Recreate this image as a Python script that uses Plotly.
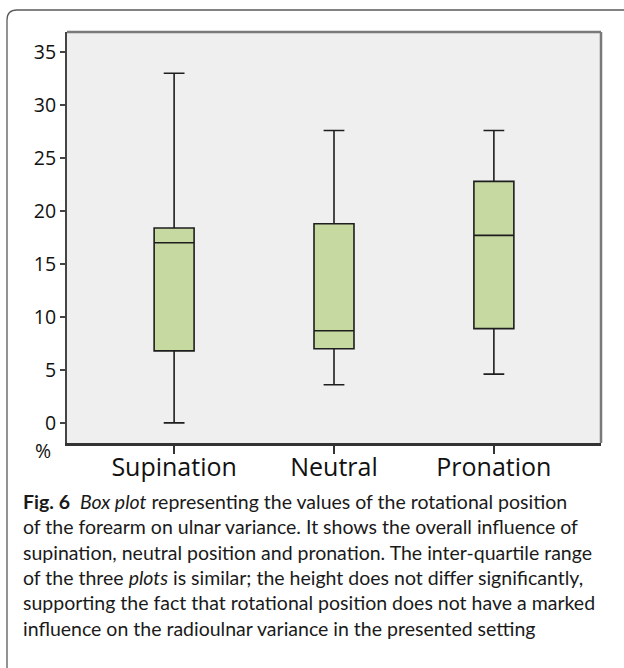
import plotly.graph_objects as go

# ---- data ----
categories = ["Supination", "Neutral", "Pronation"]
lower_whisker = [0.0, 3.6, 4.6]
q1_values = [6.8, 7.0, 8.9]
median_values = [17.0, 8.7, 17.7]
q3_values = [18.4, 18.8, 22.8]
upper_whisker = [33.0, 27.6, 27.6]
y_tick_values = [0, 5, 10, 15, 20, 25, 30, 35]
y_tick_labels = ["0", "5", "10", "15", "20", "25", "30", "35"]

caption = (
    "<b>Fig. 6</b>&#160;&#160;<i>Box plot</i> representing the values of the rotational position<br>"
    "of the forearm on ulnar variance. It shows the overall influence of<br>"
    "supination, neutral position and pronation. The inter-quartile range<br>"
    "of the three <i>plots</i> is similar; the height does not differ significantly,<br>"
    "supporting the fact that rotational position does not have a marked<br>"
    "influence on the radioulnar variance in the presented setting"
)

W, H = 624, 668
L, R, T, B = 67, 23, 32, 225
PW, PH = W - L - R, H - T - B


def px(x):
    return (x - L) / PW


def py(y):
    return (H - B - y) / PH


fig = go.Figure()
fig.add_trace(go.Box(
    x=categories,
    q1=q1_values,
    median=median_values,
    q3=q3_values,
    lowerfence=lower_whisker,
    upperfence=upper_whisker,
    fillcolor="#c6d9a0",
    line=dict(color="#1e1e1e", width=1.6),
    width=0.25,
    whiskerwidth=0.52,
    boxpoints=False,
    showlegend=False,
    hoverinfo="skip",
))

# outer rounded frame of the figure panel
rr = 10
path = (f"M {px(7)},{py(690)} L {px(7)},{py(10 + rr)} "
        f"Q {px(7)},{py(10)} {px(7 + rr)},{py(10)} L {px(640)},{py(10)}")

fig.update_layout(
    width=W, height=H,
    margin=dict(l=L, r=R, t=T, b=B, pad=0),
    paper_bgcolor="white",
    plot_bgcolor="#efefef",
    font=dict(family="Open Sans", color="#111111"),
    xaxis=dict(
        type="category",
        range=[-0.67, 2.67],
        showgrid=False, zeroline=False,
        showline=True, linecolor="#333333", linewidth=3,
        ticks="outside", ticklen=8, tickwidth=2, tickcolor="#333333",
        ticklabelstandoff=-8,
        tickfont=dict(family="Open Sans", size=25, color="#111111"),
    ),
    yaxis=dict(
        range=[-1.9, 36.9],
        tickvals=y_tick_values, ticktext=y_tick_labels,
        showgrid=False, zeroline=False,
        showline=True, linecolor="#444444", linewidth=2,
        ticks="outside", ticklen=5, tickwidth=2, tickcolor="#444444",
        tickfont=dict(family="Open Sans", size=19.5, color="#111111"),
    ),
    shapes=[
        dict(type="line", xref="paper", yref="paper", x0=0, x1=1, y0=1, y1=1,
             line=dict(color="#7a7a7a", width=2.5)),
        dict(type="line", xref="paper", yref="paper", x0=1, x1=1, y0=0, y1=1,
             line=dict(color="#7a7a7a", width=2.5)),
        dict(type="path", xref="paper", yref="paper", path=path,
             line=dict(color="#5a5a5a", width=1.3)),
    ],
    annotations=[
        dict(text="%", xref="paper", yref="paper", x=px(43), y=py(450),
             showarrow=False, font=dict(family="Open Sans", size=19.5, color="#111111"),
             xanchor="center", yanchor="middle"),
        dict(text=caption, xref="paper", yref="paper", x=px(21), y=py(488),
             showarrow=False, align="left", xanchor="left", yanchor="top",
             font=dict(family="Lato", size=19.5, color="#1a1a1a")),
    ],
)

fig.write_html("out.html", config={"displayModeBar": False},
               post_script="document.body.style.margin='0';")
